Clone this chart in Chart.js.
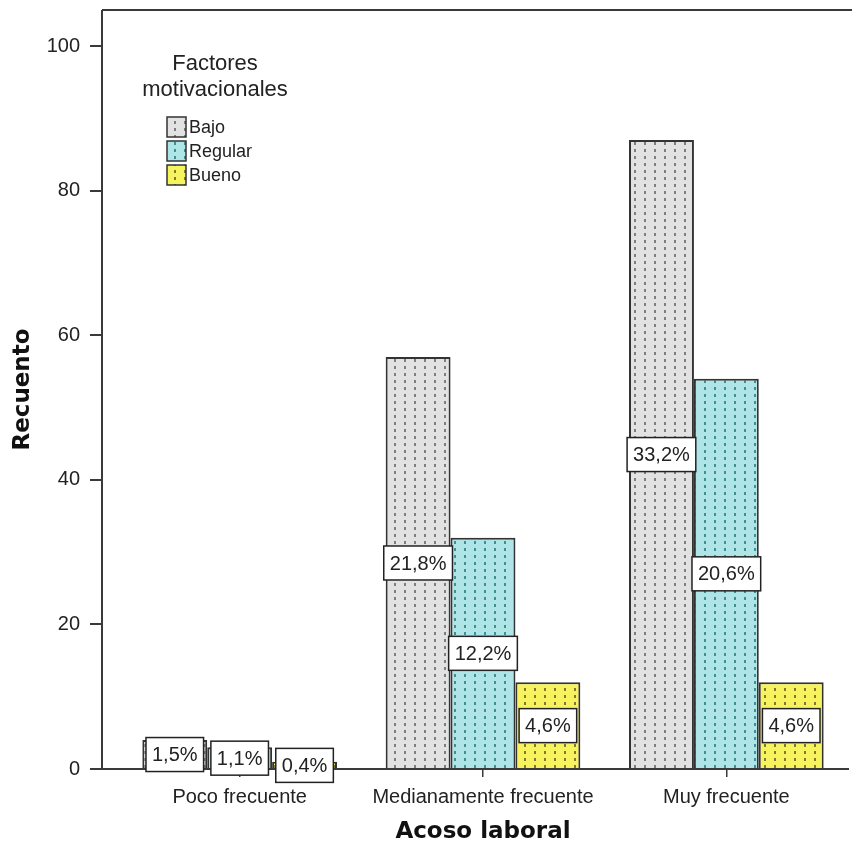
<!DOCTYPE html>
<html>
<head>
<meta charset="utf-8">
<script src="https://cdn.jsdelivr.net/npm/chart.js@4/dist/chart.umd.min.js"></script>
<style>
  html, body { margin: 0; padding: 0; background: #fff; }
  #c { display: block; }
</style>
</head>
<body>
<canvas id="c" width="852" height="854" style="width:852px;height:854px"></canvas>
<script>
// Recuento por nivel de acoso laboral y factores motivacionales
const categories = ['Poco frecuente', 'Medianamente frecuente', 'Muy frecuente'];
const seriesNames = ['Bajo', 'Regular', 'Bueno'];
const bajo = [4, 57, 87];
const regular = [3, 32, 54];
const bueno = [1, 12, 12];
const yTicks = [0, 20, 40, 60, 80, 100];
const legendTitle = ['Factores', 'motivacionales'];

const total = [...bajo, ...regular, ...bueno].reduce((a, b) => a + b, 0);

const canvas = document.getElementById('c');
const ctx0 = canvas.getContext('2d');

// dotted fill used by SPSS-style bars
function makePattern(bg, dot) {
  const t = document.createElement('canvas');
  t.width = 10; t.height = 7;
  const g = t.getContext('2d');
  g.fillStyle = bg; g.fillRect(0, 0, 10, 7);
  g.fillStyle = dot; g.fillRect(4, 2, 2, 3);
  return ctx0.createPattern(t, 'repeat');
}

const fills = [
  makePattern('#e2e2e2', '#7e7e7e'),
  makePattern('#b0e5e8', '#3f8f95'),
  makePattern('#f6f35e', '#7f7a30')
];
const LINE = '#3a3a3a';
const SANS = '"Liberation Sans", Arial, sans-serif';
const BOLD = '"DejaVu Sans", Verdana, sans-serif';

// axis frame: left axis, bottom axis, top border, y tick marks
const framePlugin = {
  id: 'frame',
  afterDatasetsDraw(chart) {
    const { ctx, chartArea } = chart;
    const y = chart.scales.y;
    const axX = 102;
    ctx.save();
    ctx.strokeStyle = LINE;
    ctx.lineWidth = 2;
    ctx.beginPath();
    ctx.moveTo(axX, chartArea.top); ctx.lineTo(852, chartArea.top);
    ctx.moveTo(axX, chartArea.top); ctx.lineTo(axX, chartArea.bottom);
    ctx.moveTo(90, chartArea.bottom); ctx.lineTo(chartArea.right + 1, chartArea.bottom);
    yTicks.forEach(v => {
      const py = Math.round(y.getPixelForValue(v));
      ctx.moveTo(90, py); ctx.lineTo(axX, py);
    });
    ctx.stroke();
    ctx.restore();
  }
};

// percentage boxes in the middle of each bar
const labelPlugin = {
  id: 'valueLabels',
  afterDatasetsDraw(chart) {
    const { ctx } = chart;
    ctx.save();
    ctx.font = '20px ' + SANS;
    ctx.textAlign = 'center';
    ctx.textBaseline = 'middle';
    chart.data.datasets.forEach((ds, di) => {
      const meta = chart.getDatasetMeta(di);
      meta.data.forEach((bar, i) => {
        const v = ds.data[i];
        const txt = (v / total * 100).toFixed(1).replace('.', ',') + '%';
        const cy = (bar.y + bar.base) / 2;
        const w = ctx.measureText(txt).width + 12;
        const h = 34;
        ctx.fillStyle = '#ffffff';
        ctx.fillRect(bar.x - w / 2, cy - h / 2, w, h);
        ctx.strokeStyle = '#222';
        ctx.lineWidth = 1.5;
        ctx.strokeRect(bar.x - w / 2, cy - h / 2, w, h);
        ctx.fillStyle = '#222';
        ctx.fillText(txt, bar.x, cy + 1);
      });
    });
    ctx.restore();
  }
};

// legend placed inside the plot area
const legendPlugin = {
  id: 'innerLegend',
  afterDraw(chart) {
    const { ctx } = chart;
    ctx.save();
    ctx.fillStyle = '#222';
    ctx.textAlign = 'center';
    ctx.textBaseline = 'middle';
    ctx.font = '22px ' + SANS;
    legendTitle.forEach((t, i) => ctx.fillText(t, 215, 64 + i * 26));
    ctx.font = '18px ' + SANS;
    ctx.textAlign = 'left';
    chart.data.datasets.forEach((ds, i) => {
      const cy = 127 + i * 24;
      ctx.fillStyle = ds.backgroundColor;
      ctx.fillRect(167, cy - 10, 19, 20);
      ctx.strokeStyle = '#333';
      ctx.lineWidth = 1.5;
      ctx.strokeRect(167, cy - 10, 19, 20);
      ctx.fillStyle = '#222';
      ctx.fillText(ds.label, 189, cy + 1);
    });
    ctx.restore();
  }
};

const seriesValues = [bajo, regular, bueno];

new Chart(canvas, {
  type: 'bar',
  data: {
    labels: categories,
    datasets: seriesNames.map((name, i) => ({
      label: name,
      data: seriesValues[i],
      backgroundColor: fills[i],
      borderColor: '#333',
      borderWidth: 2,
      barPercentage: 1.0,
      categoryPercentage: 0.8
    }))
  },
  options: {
    responsive: false,
    animation: false,
    devicePixelRatio: 1,
    layout: { padding: { top: 10, right: 4, left: 0, bottom: 0 } },
    plugins: {
      legend: { display: false },
      tooltip: { enabled: false }
    },
    scales: {
      x: {
        offset: true,
        border: { display: false },
        grid: {
          offset: false,
          drawOnChartArea: false,
          drawTicks: true,
          tickLength: 8,
          color: LINE,
          lineWidth: 1.5
        },
        ticks: {
          font: { family: SANS, size: 20 },
          color: '#222',
          padding: 8,
          maxRotation: 0,
          autoSkip: false
        },
        title: {
          display: true,
          text: 'Acoso laboral',
          font: { family: BOLD, size: 23, weight: 'bold' },
          color: '#111',
          padding: { top: 0, bottom: 8 }
        },
        afterFit(s) { s.height = 85; s.paddingLeft = 0; s.paddingRight = 0; }
      },
      y: {
        min: 0,
        max: 105,
        border: { display: false },
        grid: { display: false },
        ticks: {
          stepSize: 20,
          font: { family: SANS, size: 20 },
          color: '#222',
          padding: 30
        },
        afterBuildTicks(s) { s.ticks = yTicks.map(v => ({ value: v })); },
        title: {
          display: true,
          text: 'Recuento',
          font: { family: BOLD, size: 23, weight: 'bold' },
          color: '#111',
          padding: { top: 9, bottom: 0 }
        },
        afterFit(s) { s.width = 118; s.paddingTop = 0; s.paddingBottom = 0; }
      }
    }
  },
  plugins: [framePlugin, labelPlugin, legendPlugin]
});
</script>
</body>
</html>
